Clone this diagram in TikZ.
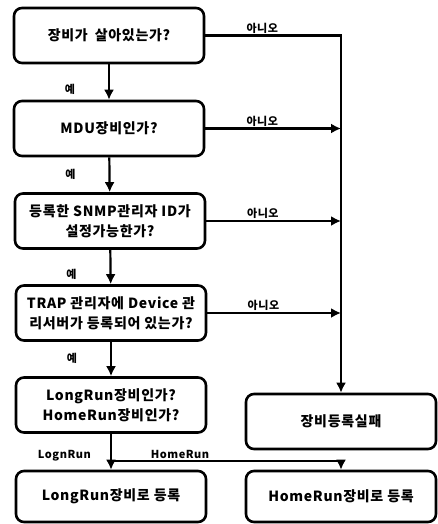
\documentclass[tikz,border=0pt]{standalone}
\usepackage{fontspec}
\setmainfont{Noto Sans CJK KR}[LetterSpace=5]
\usetikzlibrary{arrows.meta}
\tikzset{
  stepbox/.style={draw, line width=2.6pt, rounded corners=8pt, minimum width=190pt,
    minimum height=55pt, align=center, font=\bfseries\fontsize{14}{20}\selectfont},
  flow/.style={line width=2.2pt, -{Latex[length=10pt,width=10pt]}},
  answer/.style={font=\bfseries\fontsize{11}{13}\selectfont, inner sep=1pt}
}

\begin{document}
\begin{tikzpicture}[x=1pt,y=-1pt]
    \useasboundingbox (0,0) rectangle (438,524);

    % question boxes down the left column
    \node[stepbox] (q1) at (109,35.5) {장비가\enspace 살아있는가?};
    \node[stepbox] (q2) at (109,128.5) {MDU장비인가?};
    \node[stepbox] (q3) at (110,221) {등록한 SNMP관리자 ID가\\설정가능한가?};
    \node[stepbox] (q4) at (111,313) {TRAP 관리자에 Device 관\\리서버가 등록되어 있는가?};
    \node[stepbox] (q5) at (111,405) {LongRun장비인가?\\HomeRun장비인가?};

    % results
    \node[stepbox] (fail) at (341,421.5) {장비등록실패};
    \node[stepbox, minimum height=51pt] (r7) at (111,496.5) {LongRun장비로 등록};
    \node[stepbox, minimum height=51pt] (r8) at (341,496.5) {HomeRun장비로 등록};

    % yes branches
    \foreach \a/\b/\p in {q1/q2/.72, q2/q3/.5, q3/q4/.72, q4/q5/.47}{%
      \draw[flow] (\a) -- node[answer, pos=\p, left=32pt] {예} (\b);
    }

    % no branches into the right hand line
    \draw[flow] (q1) -- node[answer, above, pos=.42] {아니오} (q1 -| fail) -- (fail);
    \foreach \q in {q2,q3,q4}{%
      \draw[flow] (\q) -- node[answer, above, pos=.42] {아니오} (\q -| fail);
    }

    % LongRun / HomeRun split
    \coordinate (split) at (111,461);
    \draw[flow] (q5) -- node[answer, pos=.62, left=18pt] {LognRun} (r7);
    \draw[flow] (split) -| node[answer, above, pos=.15] {HomeRun} (r8);

\end{tikzpicture}
\end{document}
